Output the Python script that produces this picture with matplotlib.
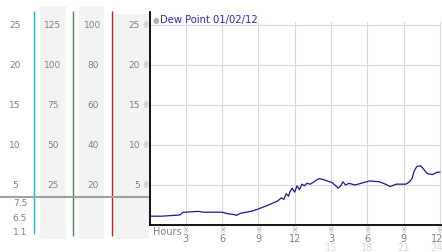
import matplotlib.pyplot as plt
from matplotlib import transforms

# DATA
hours = [0, 0.5, 1, 1.5, 2, 2.5, 2.8, 3.0, 3.5, 4, 4.5, 5, 5.5, 6, 6.5, 7, 7.2, 7.5, 8, 8.5,
         9, 9.5, 10, 10.3, 10.6, 10.9, 11.1, 11.3, 11.5, 11.6, 11.8, 12.0, 12.2, 12.4, 12.6,
         12.8, 13.0, 13.3, 13.6, 14.0, 14.3, 14.7, 15.1, 15.4, 15.6, 15.8, 16.0, 16.2, 16.5,
         17.0, 17.7, 18.2, 19.0, 19.5, 19.9, 20.4, 21.2, 21.5, 21.7, 21.9, 22.1, 22.4, 22.6,
         22.8, 23.0, 23.4, 23.8, 24.0]
dew_point = [1.1, 1.1, 1.1, 1.15, 1.2, 1.25, 1.6, 1.6, 1.65, 1.7, 1.6, 1.6, 1.6, 1.6, 1.4,
             1.3, 1.2, 1.45, 1.6, 1.75, 2.0, 2.3, 2.6, 2.8, 3.0, 3.4, 3.2, 3.9, 3.6, 4.1, 4.6,
             4.1, 4.9, 4.4, 5.1, 4.9, 5.2, 5.1, 5.4, 5.8, 5.7, 5.5, 5.3, 4.9, 4.6, 4.9, 5.4,
             5.0, 5.2, 5.0, 5.3, 5.5, 5.4, 5.1, 4.8, 5.1, 5.1, 5.4, 5.8, 6.8, 7.3, 7.4, 7.1,
             6.7, 6.4, 6.3, 6.6, 6.6]

x_ticks = [3, 6, 9, 12, 15, 18, 21, 24]
x_labels = ['3', '6', '9', '12', '3', '6', '9', '12']
x_labels2 = ['', '', '', '', '15', '18', '21', '24']
y_ticks = [5, 10, 15, 20, 25]
col1_labels = ['5', '10', '15', '20', '25']
col2_labels = ['25', '50', '75', '100', '125']
col3_labels = ['20', '40', '60', '80', '100']
col4_labels = ['5', '10', '15', '20', '25']
current_values = ['7.5', '6.5', '1.1']

W, H = 442, 253
fig = plt.figure(figsize=(W / 100, H / 100), dpi=100)
fig.patch.set_facecolor('white')

# BACKGROUND AXES IN PIXEL COORDS (LEFT PANELS)
bg = fig.add_axes([0, 0, 1, 1])
bg.set_xlim(0, W)
bg.set_ylim(H, 0)
bg.axis('off')
for x0, x1, y0 in [(40, 66, 7), (79, 104, 7), (115, 149, 15)]:
    bg.fill_between([x0, x1], y0, 240, color='#f3f3f3', lw=0)
bg.plot([33.5, 33.5], [12, 235], color='#30b0d0', lw=1.0, solid_capstyle='butt')
bg.plot([72.5, 72.5], [12, 237], color='#30a030', lw=1.0, solid_capstyle='butt')
bg.plot([111.5, 111.5], [12, 237], color='#b02828', lw=1.0, solid_capstyle='butt')
bg.plot([0, 149], [197.5, 197.5], color='#a0a0a0', lw=1.5)
for lab, y in zip(current_values, [204, 218.5, 233]):
    bg.text(20, y, lab, fontsize=6.5, color='#808080', ha='center', va='center')

# MAIN AXES
ax = fig.add_axes([149.5 / W, (H - 226) / H, (441 - 149.5) / W, (226 - 13) / H])
ax.set_facecolor('none')
ax.set_xlim(0, 24.1)
ax.set_ylim(0, 26.6)
for v in y_ticks:
    ax.axhline(v, color='#d9d9d9', lw=0.8, zorder=0)
for v in x_ticks:
    ax.axvline(v, ymax=25.3 / 26.6, color='#d9d9d9', lw=0.8, zorder=0)
ax.plot(hours, dew_point, color='#1a1a8a', lw=0.9)
ax.spines['top'].set_visible(False)
ax.spines['right'].set_visible(False)
ax.spines['left'].set_color('black')
ax.spines['bottom'].set_color('black')
ax.spines['left'].set_linewidth(1.3)
ax.spines['bottom'].set_linewidth(1.3)
ax.set_xticks([])
ax.set_yticks([])

# X TICK LABELS
tx = transforms.blended_transform_factory(ax.transData, fig.transFigure)
for v, l1, l2 in zip(x_ticks, x_labels, x_labels2):
    xv = min(v, 23.75)
    ax.text(v, (H - 231) / H, '※', fontsize=5.5, color='#a0a0a0', ha='center', va='center', transform=tx)
    ax.text(xv, (H - 239) / H, l1, fontsize=7, color='#808080', ha='center', va='center', transform=tx)
    ax.text(xv, (H - 248) / H, l2, fontsize=7, color='#d8d8d8', ha='center', va='center', transform=tx)
ax.text(153 / W, (H - 232) / H, 'Hours', fontsize=7, color='#808080', ha='left', va='center',
        transform=fig.transFigure)

# LEFT COLUMN LABELS
ty = transforms.blended_transform_factory(fig.transFigure, ax.transData)
for v, a, b, c, d in zip(y_ticks, col1_labels, col2_labels, col3_labels, col4_labels):
    ax.text(15 / W, v, a, fontsize=6.5, color='#808080', ha='center', va='center', transform=ty)
    ax.text(53 / W, v, b, fontsize=6.5, color='#808080', ha='center', va='center', transform=ty)
    ax.text(93 / W, v, c, fontsize=6.5, color='#808080', ha='center', va='center', transform=ty)
    ax.text(140 / W, v, d, fontsize=6.5, color='#808080', ha='right', va='center', transform=ty)
    ax.text(145.5 / W, v, '※', fontsize=5.5, color='#a0a0a0', ha='center', va='center', transform=ty)

# LEGEND / TITLE
fig.text(155.5 / W, (H - 20.5) / H, '●', fontsize=5.5, color='#b0b0b0', ha='center', va='center')
fig.text(160 / W, (H - 20.5) / H, 'Dew Point 01/02/12', fontsize=7.2, color='#2b2bb0', ha='left', va='center')

fig.savefig('out.png', dpi=100)
